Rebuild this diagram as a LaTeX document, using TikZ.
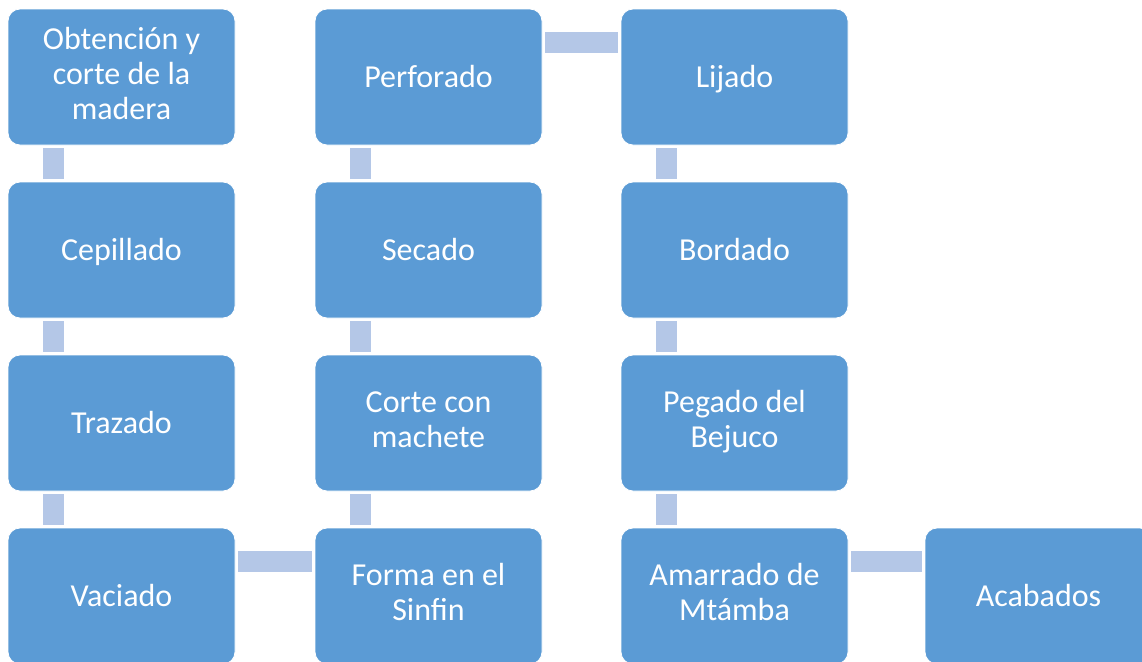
\documentclass[tikz,border=0pt]{standalone}
\usepackage{fontspec}
\setmainfont{Carlito}
\usetikzlibrary{positioning}
\definecolor{boxblue}{HTML}{5B9BD5}
\definecolor{linkblue}{HTML}{B4C7E7}
\newcommand{\boxstrut}{\rule[-5.625pt]{0pt}{26.25pt}}
\newcommand{\lastboxstrut}{\rule[-1.875pt]{0pt}{1pt}}

\begin{document}
\begin{tikzpicture}[
  stepbox/.style={draw=white, line width=0.6pt, fill=boxblue, rectangle, rounded corners=9pt,
                  minimum width=170.25pt, minimum height=102pt, inner sep=0pt, outer sep=0pt,
                  text=white, align=center, font=\fontsize{24}{26.25}\selectfont,
                  execute at begin node=\boxstrut, execute at end node=\lastboxstrut},
  link/.style={draw=linkblue, line width=15.75pt, shorten <=2.25pt, shorten >=2.25pt}
]
\useasboundingbox (0,0) rectangle (856.5pt,-495.75pt);
\clip (0,0) rectangle (856.5pt,-495.75pt);

\node[stepbox] (obtencion) at (91.125pt,-57.75pt) {Obtención y\\corte de la\\madera};
\node[stepbox, below=27.75pt of obtencion] (cepillado) {Cepillado};
\node[stepbox, below=27.75pt of cepillado] (trazado) {Trazado};
\node[stepbox, below=27.75pt of trazado] (vaciado) {Vaciado};

\node[stepbox, right=60pt of vaciado] (forma) {Forma en el\\Sinfin};
\node[stepbox, above=27.75pt of forma] (corte) {Corte con\\machete};
\node[stepbox, above=27.75pt of corte] (secado) {Secado};
\node[stepbox, above=27.75pt of secado] (perforado) {Perforado};

\node[stepbox, right=59.25pt of perforado] (lijado) {Lijado};
\node[stepbox, below=27.75pt of lijado] (bordado) {Bordado};
\node[stepbox, below=27.75pt of bordado] (pegado) {Pegado del\\Bejuco};
\node[stepbox, below=27.75pt of pegado] (amarrado) {Amarrado de\\Mtámba};

\node[stepbox, right=57.75pt of amarrado] (acabados) {Acabados};

\draw[link] ([xshift=34.125pt]obtencion.south west) -- ([xshift=34.125pt]cepillado.north west);
\draw[link] ([xshift=34.125pt]cepillado.south west) -- ([xshift=34.125pt]trazado.north west);
\draw[link] ([xshift=34.125pt]trazado.south west) -- ([xshift=34.125pt]vaciado.north west);
\draw[link] ([yshift=-24.75pt]vaciado.north east) -- ([yshift=-24.75pt]forma.north west);
\draw[link] ([xshift=34.125pt]forma.north west) -- ([xshift=34.125pt]corte.south west);
\draw[link] ([xshift=34.125pt]corte.north west) -- ([xshift=34.125pt]secado.south west);
\draw[link] ([xshift=34.125pt]secado.north west) -- ([xshift=34.125pt]perforado.south west);
\draw[link] ([yshift=-24.75pt]perforado.north east) -- ([yshift=-24.75pt]lijado.north west);
\draw[link] ([xshift=34.125pt]lijado.south west) -- ([xshift=34.125pt]bordado.north west);
\draw[link] ([xshift=34.125pt]bordado.south west) -- ([xshift=34.125pt]pegado.north west);
\draw[link] ([xshift=34.125pt]pegado.south west) -- ([xshift=34.125pt]amarrado.north west);
\draw[link] ([yshift=-24.75pt]amarrado.north east) -- ([yshift=-24.75pt]acabados.north west);
\end{tikzpicture}
\end{document}
